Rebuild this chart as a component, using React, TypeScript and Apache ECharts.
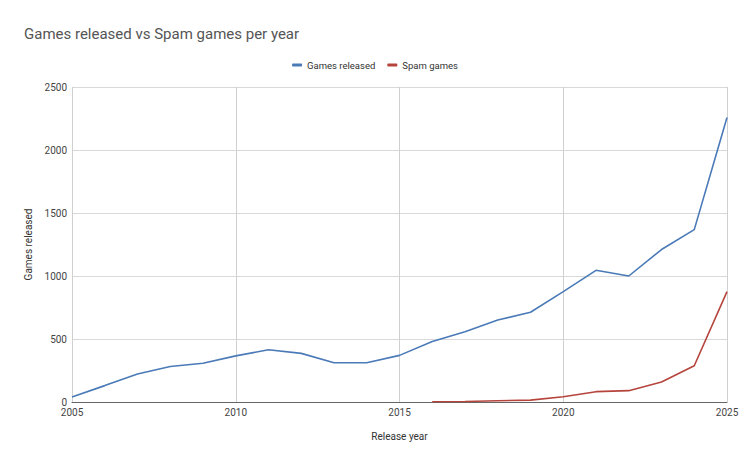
import React, { useEffect, useRef } from "react";
import * as echarts from "echarts";

const years = [2005, 2006, 2007, 2008, 2009, 2010, 2011, 2012, 2013, 2014, 2015, 2016, 2017, 2018, 2019, 2020, 2021, 2022, 2023, 2024, 2025];
const gamesReleased = [40, 130, 222, 282, 307, 366, 415, 386, 311, 312, 370, 481, 558, 651, 712, 876, 1045, 1000, 1210, 1368, 2258];
const spamYears = [2016, 2017, 2018, 2019, 2020, 2021, 2022, 2023, 2024, 2025];
const spamGames = [2, 4, 10, 15, 42, 82, 90, 159, 288, 876];

const FONT = "Roboto, 'Noto Sans', Arial, sans-serif";

export default function App() {
  const ref = useRef<HTMLDivElement>(null);
  useEffect(() => {
    if (!ref.current) return;
    const chart = echarts.init(ref.current, null, { renderer: "svg" });
    chart.setOption({
      animation: false,
      backgroundColor: "#ffffff",
      title: {
        text: "Games released vs Spam games per year",
        left: 11,
        top: 13,
        textStyle: { fontFamily: FONT, fontSize: 15, fontWeight: "normal", color: "#555555" },
      },
      legend: {
        top: 47,
        left: "center",
        itemWidth: 10,
        itemHeight: 3,
        itemGap: 12,
        icon: "roundRect",
        textStyle: { fontFamily: FONT, fontSize: 9.5, color: "#333333" },
        data: ["Games released", "Spam games"],
      },
      grid: { left: 64, right: 15, top: 79, bottom: 54 },
      xAxis: {
        type: "value",
        min: 2005,
        max: 2025,
        interval: 5,
        name: "Release year",
        nameLocation: "middle",
        nameGap: 29,
        nameTextStyle: { fontFamily: FONT, fontSize: 10, color: "#333333" },
        axisLine: { show: true, lineStyle: { color: "#666666", width: 1 } },
        axisTick: { show: false },
        axisLabel: { fontFamily: FONT, fontSize: 10, color: "#444444", margin: 5, formatter: (v: number) => String(v) },
        splitLine: { show: true, lineStyle: { color: "#d0d0d0", width: 1 } },
      },
      yAxis: {
        type: "value",
        min: 0,
        max: 2500,
        interval: 500,
        name: "Games released",
        nameLocation: "middle",
        nameGap: 38,
        nameTextStyle: { fontFamily: FONT, fontSize: 10, color: "#333333" },
        axisLine: { show: false },
        axisTick: { show: false },
        axisLabel: { fontFamily: FONT, fontSize: 10, color: "#444444", margin: 5, formatter: (v: number) => String(v) },
        splitLine: { show: true, lineStyle: { color: "#d9d9d9", width: 1 } },
      },
      series: [
        {
          name: "Games released",
          type: "line",
          data: years.map((y, i) => [y, gamesReleased[i]]),
          showSymbol: false,
          symbol: "none",
          lineStyle: { color: "#4a7ab7", width: 1.6 },
          itemStyle: { color: "#4a7ab7" },
        },
        {
          name: "Spam games",
          type: "line",
          data: spamYears.map((y, i) => [y, spamGames[i]]),
          showSymbol: false,
          symbol: "none",
          lineStyle: { color: "#b5443c", width: 1.6 },
          itemStyle: { color: "#b5443c" },
        },
      ],
    });
    return () => chart.dispose();
  }, []);
  return <div ref={ref} style={{ width: 734, height: 448 }} />;
}
